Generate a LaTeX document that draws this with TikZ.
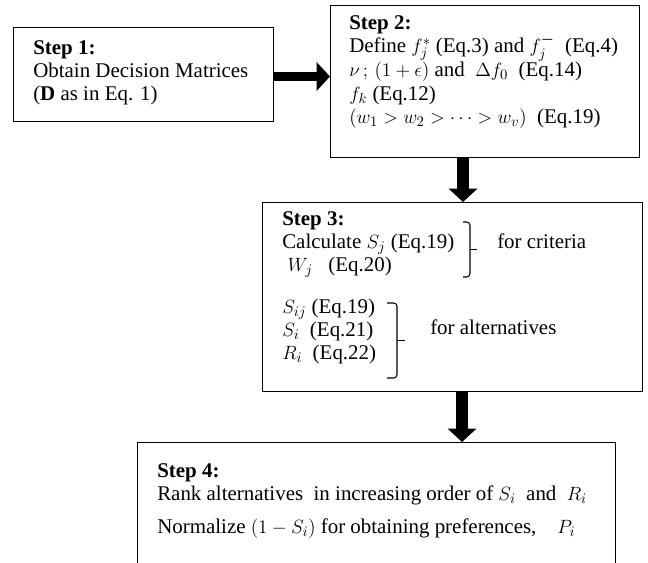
\documentclass[tikz,border=0pt]{standalone}
\usepackage{amsmath}
\usepackage{bm}
\usepackage{fontspec}
\setmainfont{Liberation Serif}
\usetikzlibrary{arrows.meta}
\tikzset{
  box/.style={draw, line width=0.8pt, anchor=north west, inner sep=0pt, minimum width=#1},
  txt/.style={anchor=north west, inner sep=0pt, align=left, font=\fontsize{15.7}{17.3}\selectfont},
  blockarrow/.style={line width=#1, -{Triangle[length=10pt, width=21pt]}},
  brk/.style={line width=0.8pt, rounded corners=2.5pt}
}
\begin{document}
\begin{tikzpicture}[x=0.75pt,y=-0.75pt]
\useasboundingbox (0,0) rectangle (648,562);
\clip (0,0) rectangle (648,562);
% boxes
\node[box=260*0.75pt, minimum height=94*0.75pt] (s1) at (13,27) {};
\node[box=309*0.75pt, minimum height=152*0.75pt] (s2) at (330,5) {};
\node[box=380*0.75pt, minimum height=189*0.75pt] (s3) at (262,202) {};
\node[box=478*0.75pt, minimum height=160*0.75pt] (s4) at (137,442) {};
% texts
\node[txt] (t1) at (33,40) {\textbf{Step 1:}\\Obtain Decision Matrices\\(\textbf{D} as in Eq. 1)};
\node[txt] (t2) at (349,15) {\textbf{Step 2:}\\
Define $f_j^{*}$ (Eq.3) and $f_j^{\bm{-}}$\ \ (Eq.4)\\
$\nu\,;\,(1+\epsilon)$ and\ \ $\Delta f_0$\ \ (Eq.14)\\
$f_k$ (Eq.12)\\
$(w_1>w_2>\cdots>w_v)$\ \ (Eq.19)};
\node[txt] (t3) at (282,211) {\textbf{Step 3:}\\
Calculate $S_j$ (Eq.19)\\
\ $W_j$\ \ \ (Eq.20)\\[14pt]
$S_{ij}$ (Eq.19)\\
$S_i$\ \ (Eq.21)\\
$R_i$\ \ (Eq.22)};
\node[txt, anchor=west] (c1) at (497,241) {for criteria};
\node[txt, anchor=west] (c2) at (430,327) {for alternatives};
\node[txt] (t4) at (157,463) {\textbf{Step 4:}\\
Rank alternatives\ \ in increasing order of $S_i$\ \ and\ \ $R_i$\\[8pt]
Normalize $(1-S_i)$ for obtaining preferences,\quad $P_i$};
% brackets
\draw[brk] (463,222) -- (470,222) -- (470,277) -- (463,277);
\draw[line width=0.8pt] (470,249.5) -- (477,249.5);
\draw[brk] (387,303) -- (397,303) -- (397,378) -- (387,378);
\draw[line width=0.8pt] (397,340.5) -- (405,340.5);
% arrows
\coordinate (a1) at (0,76.5);
\coordinate (a2) at (463,0);
\coordinate (a3) at (462,0);
\draw[blockarrow=6.75pt] (s1.east |- a1) -- (s2.west |- a1);
\draw[blockarrow=9pt] (s2.south -| a2) -- (s3.north -| a2);
\draw[blockarrow=9pt] (s3.south -| a3) -- (s4.north -| a3);
\end{tikzpicture}
\end{document}
